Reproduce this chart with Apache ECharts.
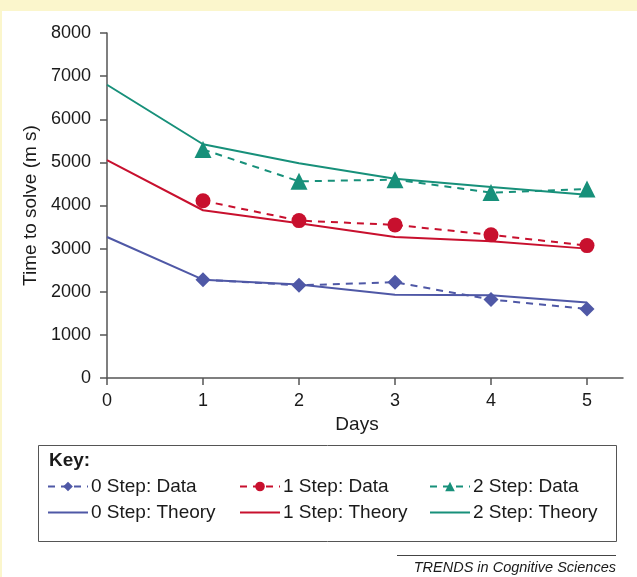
<!DOCTYPE html>
<html>
<head>
<meta charset="utf-8">
<script src="https://cdn.jsdelivr.net/npm/echarts@6/dist/echarts.min.js"></script>
<style>
  html, body { margin: 0; padding: 0; background: #fbf6cc; }
  #main { width: 637px; height: 577px; }
</style>
</head>
<body>
<div id="main"></div>
<script>
// days on the x axis
var theoryDays = [0, 1, 2, 3, 4, 5];
var dataDays = [1, 2, 3, 4, 5];
var dayTicks = [0, 1, 2, 3, 4, 5];

// time to solve (m s)
var zeroStepData = [2280, 2150, 2220, 1820, 1600];
var oneStepData = [4110, 3650, 3550, 3320, 3070];
var twoStepData = [5300, 4560, 4600, 4300, 4380];
var zeroStepTheory = [3270, 2280, 2170, 1930, 1920, 1750];
var oneStepTheory = [5050, 3890, 3590, 3270, 3170, 3000];
var twoStepTheory = [6800, 5420, 4980, 4620, 4430, 4250];

var blue = '#4f58a6';
var red = '#c8102e';
var green = '#17907a';
var font = 'Liberation Sans';

function pairs(xs, ys) {
    return xs.map(function(x, i) { return [x, ys[i]]; });
}

function dataSeries(name, color, symbol, size, xs, ys) {
    return {
        name: name,
        type: 'line',
        data: pairs(xs, ys),
        symbol: symbol,
        symbolSize: size,
        itemStyle: { color: color },
        lineStyle: { color: color, width: 2, type: [7, 6] },
        z: 3
    };
}

function theorySeries(name, color, xs, ys) {
    return {
        name: name,
        type: 'line',
        data: pairs(xs, ys),
        showSymbol: false,
        symbol: 'none',
        itemStyle: { color: color },
        lineStyle: { color: color, width: 2 },
        z: 2
    };
}

function key(name, left, top, noMarker) {
    var item = { name: name };
    if (noMarker) {
        item.itemStyle = { opacity: 0 };
    }
    return {
        data: [item],
        left: left,
        top: top,
        padding: 0,
        itemWidth: 40,
        itemHeight: 12,
        itemGap: 6,
        selectedMode: false,
        textStyle: { fontFamily: font, fontSize: 19, color: '#1a1a1a', padding: [0, 0, 0, -2] }
    };
}

var myChart = echarts.init(document.getElementById('main'));
var option = {
    backgroundColor: '#fbf6cc',
    animation: false,
    grid: {
        left: 107,
        right: 14,
        top: 33,
        bottom: 199
    },
    xAxis: {
        type: 'value',
        min: 0,
        max: 5.375,
        interval: 1,
        name: 'Days',
        nameLocation: 'middle',
        nameGap: 37,
        nameTextStyle: { fontFamily: font, fontSize: 19, color: '#1a1a1a', padding: [0, 0, 0, -16] },
        splitLine: { show: false },
        axisLine: { lineStyle: { color: '#555', width: 1.5 } },
        axisTick: { length: 7, customValues: dayTicks, lineStyle: { color: '#555', width: 1.5 } },
        axisLabel: { customValues: dayTicks, margin: 14, fontFamily: font, fontSize: 18, color: '#1a1a1a' }
    },
    yAxis: {
        type: 'value',
        min: 0,
        max: 8000,
        interval: 1000,
        name: 'Time to solve (m s)',
        nameLocation: 'middle',
        nameGap: 63,
        nameTextStyle: { fontFamily: font, fontSize: 19, color: '#1a1a1a' },
        splitLine: { show: false },
        axisLine: { show: true, lineStyle: { color: '#555', width: 1.5 } },
        axisTick: { show: true, length: 7, lineStyle: { color: '#555', width: 1.5 } },
        axisLabel: {
            margin: 16,
            fontFamily: font,
            fontSize: 18,
            color: '#1a1a1a',
            formatter: function(v) { return String(v); }
        }
    },
    legend: [
        key('0 Step: Data', 47, 477),
        key('1 Step: Data', 239, 477),
        key('2 Step: Data', 429, 477),
        key('0 Step: Theory', 47, 503, true),
        key('1 Step: Theory', 239, 503, true),
        key('2 Step: Theory', 429, 503, true)
    ],
    graphic: [
        // white panel
        { type: 'rect', z: -10, shape: { x: 2, y: 11, width: 640, height: 570 }, style: { fill: '#fff' } },
        // key box
        { type: 'rect', z: -5, shape: { x: 38.5, y: 445.5, width: 578, height: 96 }, style: { fill: 'none', stroke: '#555', lineWidth: 1 } },
        { type: 'text', left: 49, top: 451, style: { text: 'Key:', fontFamily: font, fontSize: 19, fontWeight: 'bold', fill: '#1a1a1a' } },
        // footer
        { type: 'line', shape: { x1: 397, y1: 555.5, x2: 616, y2: 555.5 }, style: { stroke: '#444', lineWidth: 1 } },
        { type: 'text', right: 21, top: 560, style: { text: 'TRENDS in Cognitive Sciences', fontFamily: font, fontSize: 14.5, fontStyle: 'italic', fill: '#1a1a1a' } }
    ],
    series: [
        dataSeries('0 Step: Data', blue, 'diamond', 15, dataDays, zeroStepData),
        dataSeries('1 Step: Data', red, 'circle', 15, dataDays, oneStepData),
        dataSeries('2 Step: Data', green, 'triangle', 17, dataDays, twoStepData),
        theorySeries('0 Step: Theory', blue, theoryDays, zeroStepTheory),
        theorySeries('1 Step: Theory', red, theoryDays, oneStepTheory),
        theorySeries('2 Step: Theory', green, theoryDays, twoStepTheory)
    ]
};

myChart.setOption(option);
window.onresize = function() {
    myChart.resize();
};
</script>
</body>
</html>
